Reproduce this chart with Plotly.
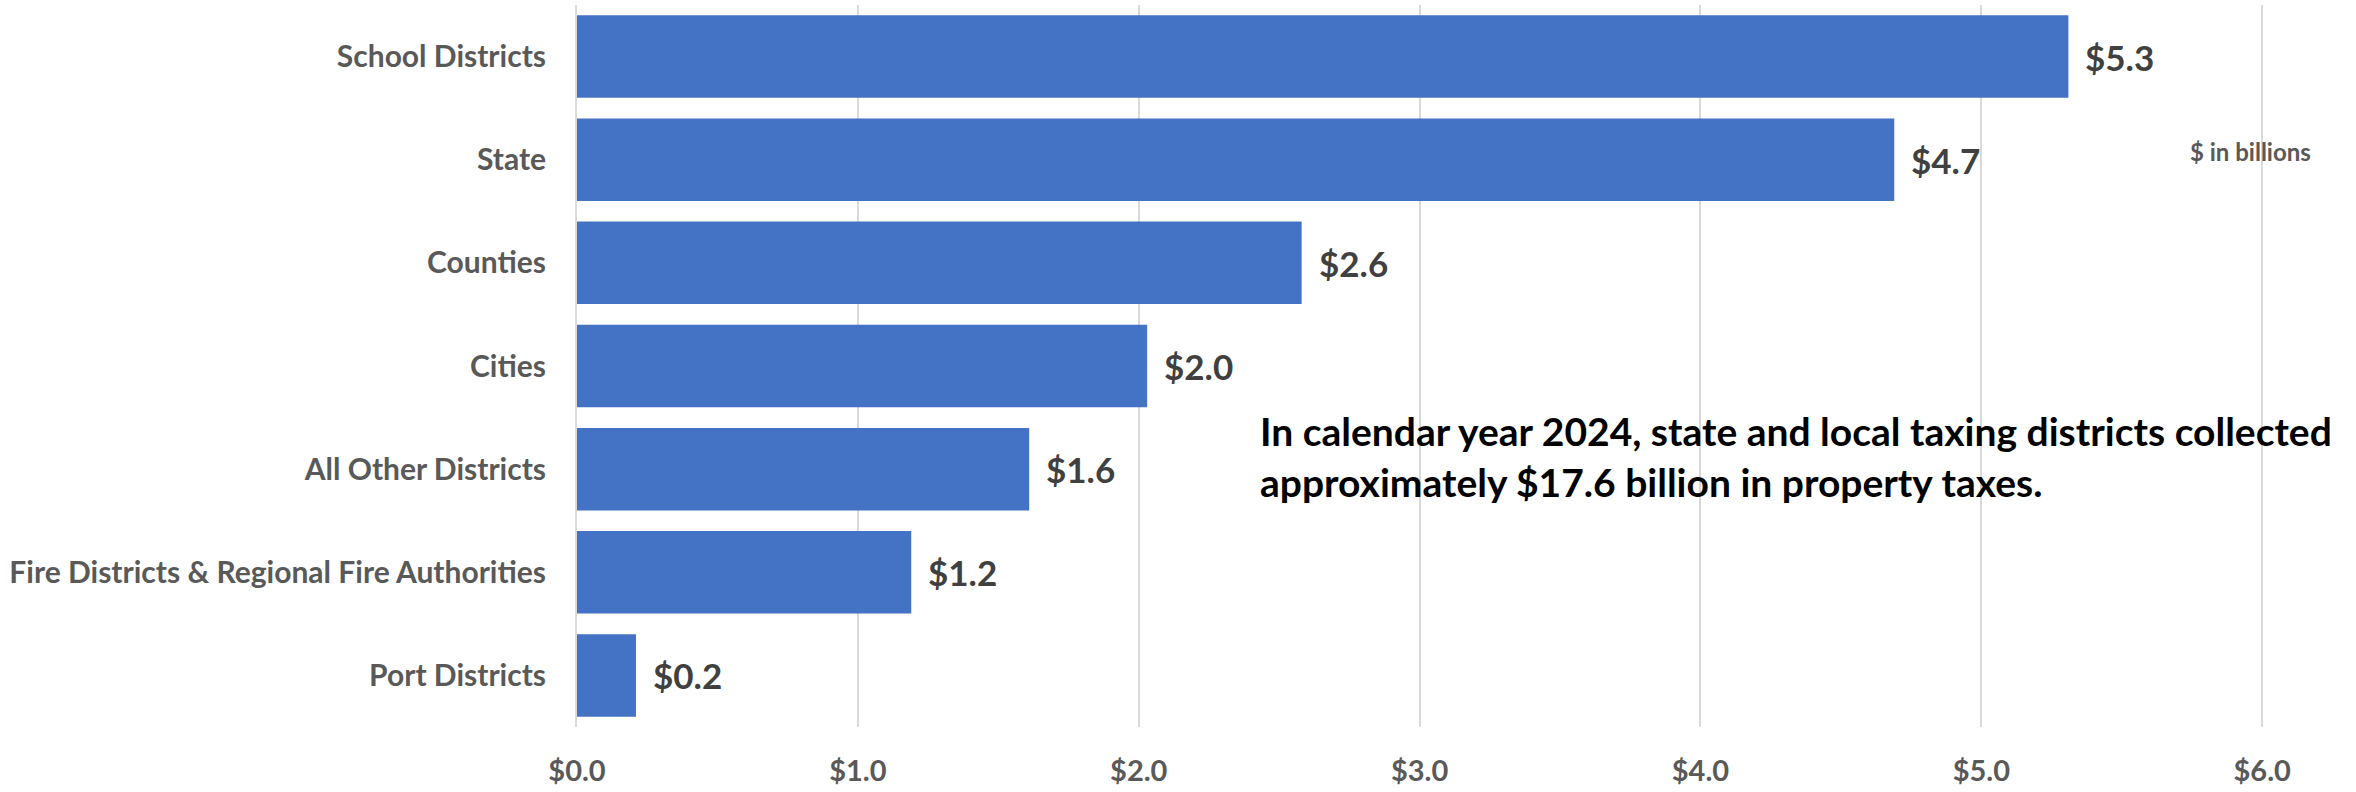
import plotly.graph_objects as go

# Property taxes collected by taxing district type, calendar year 2024 ($ billions)
categories = [
    "School Districts",
    "State",
    "Counties",
    "Cities",
    "All Other Districts",
    "Fire Districts & Regional Fire Authorities",
    "Port Districts",
]
amounts = [5.31, 4.69, 2.58, 2.03, 1.61, 1.19, 0.21]

tick_values = [0, 1, 2, 3, 4, 5, 6]
tick_labels = ["$0.0", "$1.0", "$2.0", "$3.0", "$4.0", "$5.0", "$6.0"]

FONT = "Lato"
BLUE = "#4472C4"
GRID = "#D9D9D9"

fig = go.Figure(
    go.Bar(
        x=amounts,
        y=categories,
        orientation="h",
        marker=dict(color=BLUE, line=dict(width=0)),
        width=0.8,
        hoverinfo="skip",
    )
)

# Value labels just past the end of each bar
for cat, val in zip(categories, amounts):
    fig.add_annotation(
        x=val, y=cat, xref="x", yref="y",
        text=f"${val:.1f}",
        showarrow=False, xanchor="left", yanchor="middle",
        xshift=15,
        font=dict(family=FONT, size=35, color="#404040", weight="bold"),
    )

fig.add_annotation(
    x=5.96, y=0.797, xref="x", yref="paper",
    text="$ in billions",
    showarrow=False, xanchor="center", yanchor="middle",
    font=dict(family=FONT, size=24, color="#595959", weight="bold"),
)

fig.add_annotation(
    x=2.425, y=0.375, xref="x", yref="paper",
    text="In calendar year 2024, state and local taxing districts collected<br>"
         "approximately $17.6 billion in property taxes.",
    showarrow=False, xanchor="left", yanchor="middle", align="left",
    font=dict(family=FONT, size=39, color="#000000", weight="bold"),
)

fig.update_layout(
    width=2356,
    height=792,
    margin=dict(l=577, r=91, t=5, b=62),
    paper_bgcolor="white",
    plot_bgcolor="white",
    showlegend=False,
    bargap=0.2,
)

fig.update_xaxes(
    range=[0, 6.01],
    tickvals=tick_values,
    ticktext=tick_labels,
    showgrid=True,
    gridcolor=GRID,
    gridwidth=2,
    zeroline=False,
    showline=False,
    ticks="",
    ticklabelstandoff=24,
    tickfont=dict(family=FONT, size=29, color="#595959", weight="bold"),
    fixedrange=True,
)

fig.update_yaxes(
    categoryorder="array",
    categoryarray=categories[::-1],
    showgrid=False,
    zeroline=False,
    showline=True,
    linecolor=GRID,
    linewidth=2,
    ticks="",
    ticklabelstandoff=23,
    tickfont=dict(family=FONT, size=30, color="#595959", weight="bold"),
    fixedrange=True,
)

fig.write_html("out.html")
